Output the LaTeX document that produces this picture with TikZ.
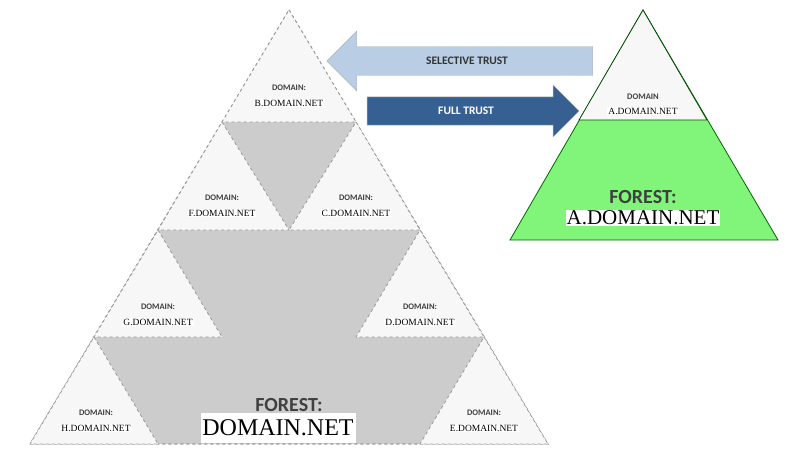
\documentclass[tikz,border=0pt]{standalone}
\usepackage{fontspec}
\setmainfont{Liberation Serif}
\newfontfamily\labelfont{Carlito}
\usetikzlibrary{shapes.arrows}
\definecolor{selblue}{HTML}{B9CDE5}
\definecolor{fullblue}{HTML}{376092}
\definecolor{forestgreen}{HTML}{80F57A}
\tikzset{dom tri/.style={draw=gray!80, dashed, thick, fill=gray!6},
  dom head/.style={font=\labelfont\bfseries\fontsize{8.5}{9}\selectfont, text=black!75, inner sep=0pt},
  dom name/.style={font=\fontsize{9.5}{10}\selectfont, fill=white, inner sep=1pt},
  my arrow/.style={single arrow, draw=gray!60, font=\labelfont\bfseries\fontsize{11.5}{12}\selectfont, inner ysep=9pt, inner xsep=2pt},}

\begin{document}
\begin{tikzpicture}[x=1pt,y=-1pt]
\useasboundingbox (0,0) rectangle (789,463);
% forest domain.net
\draw [dom tri, fill=gray!40, very thick] (289,10) -- (548,444) -- (30,444) -- cycle;
\draw [dom tri] (289,10) -- (356,122) -- (222,122) -- cycle;
\draw [dom tri] (222,122) -- (289,230) -- (158,230) -- cycle;
\draw [dom tri] (356,122) -- (420,230) -- (289,230) -- cycle;
\draw [dom tri] (158,230) -- (222,337) -- (94,337) -- cycle;
\draw [dom tri] (420,230) -- (484,337) -- (356,337) -- cycle;
\draw [dom tri] (94,337) -- (158,444) -- (30,444) -- cycle;
\draw [dom tri] (484,337) -- (548,444) -- (420,444) -- cycle;
\node [dom head] (bh) at (289,88) {DOMAIN:};
\node [dom name] (bn) at (289,103) {B.DOMAIN.NET};
\node [dom head] (fh) at (222,198) {DOMAIN:};
\node [dom name] (fn) at (222,213) {F.DOMAIN.NET};
\node [dom head] (ch) at (356,198) {DOMAIN:};
\node [dom name] (cn) at (356,213) {C.DOMAIN.NET};
\node [dom head] (gh) at (158,307) {DOMAIN:};
\node [dom name] (gn) at (158,322) {G.DOMAIN.NET};
\node [dom head] (dh) at (420,307) {DOMAIN:};
\node [dom name] (dn) at (420,322) {D.DOMAIN.NET};
\node [dom head] (hh) at (96,413) {DOMAIN:};
\node [dom name] (hn) at (96,428) {H.DOMAIN.NET};
\node [dom head] (eh) at (484,413) {DOMAIN:};
\node [dom name] (en) at (484,428) {E.DOMAIN.NET};
\node [dom head, font=\labelfont\bfseries\fontsize{20}{21}\selectfont] (forest) at (289,405) {FOREST:};
\node [fill=white, minimum width=155, minimum height=30, inner sep=0pt, font=\fontsize{24}{26}\selectfont] (forestname) at (278,428) {DOMAIN.NET};
% forest a.domain.net
\draw [draw=green!40!black, thick, fill=forestgreen] (643,10) -- (778,240) -- (510,240) -- cycle;
\draw [draw=green!30!black, thick, fill=gray!6] (643,10) -- (707,120) -- (579,120) -- cycle;
\node [dom head] (ah) at (643,97) {DOMAIN};
\node [dom name] (an) at (643,111) {A.DOMAIN.NET};
\node [dom head, font=\labelfont\bfseries\fontsize{20}{21}\selectfont] (aforest) at (643,197) {FOREST:};
\node [fill=white, inner sep=1pt, font=\fontsize{21}{23}\selectfont] (aforestname) at (643,218) {A.DOMAIN.NET};
% trusts
\node [my arrow, fill=selblue, text=black!80, shape border rotate=180, minimum height=266, minimum width=60, single arrow head extend=14pt] (selective) at (467,61) {SELECTIVE TRUST};
\node [my arrow, fill=fullblue, text=white, minimum height=212, minimum width=52, single arrow head extend=11pt] (full) at (466,111) {FULL TRUST};
\end{tikzpicture}
\end{document}
